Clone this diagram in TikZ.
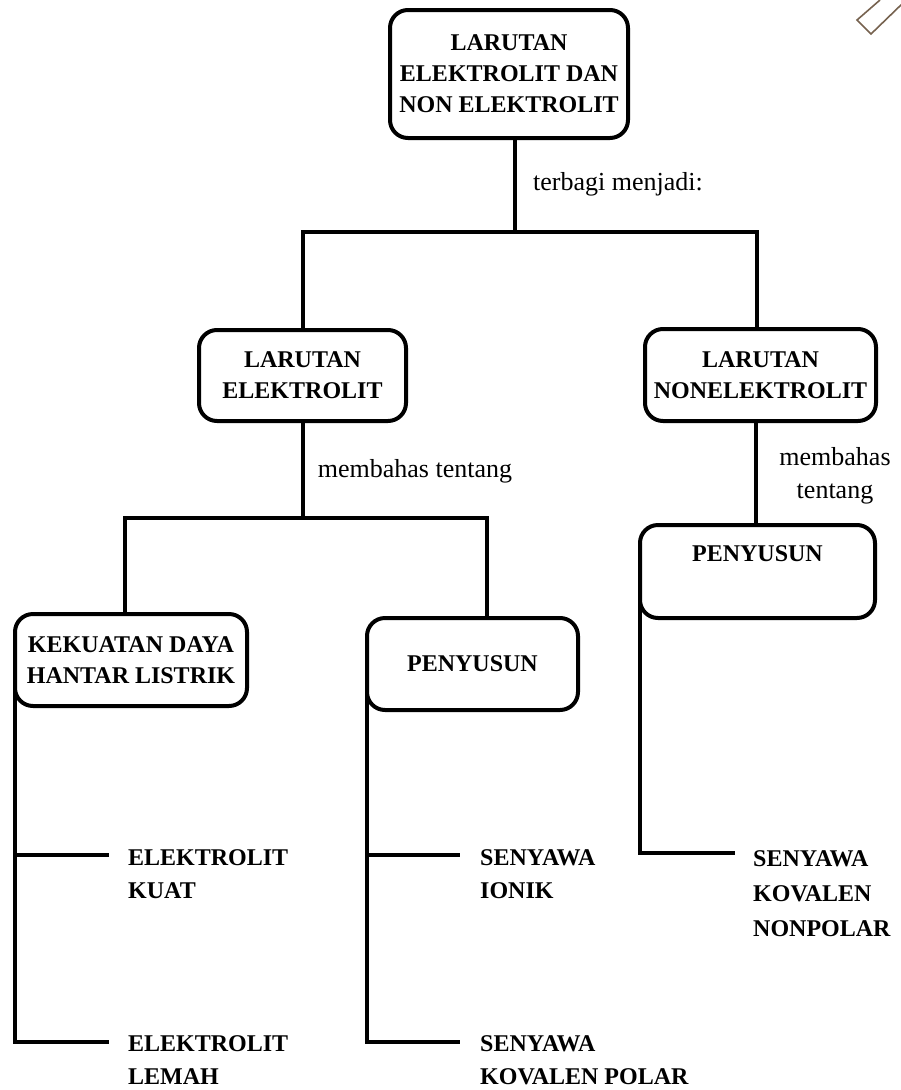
\documentclass[tikz,border=0pt]{standalone}
\usepackage{fontspec}
\setmainfont{Liberation Serif}
\definecolor{deco}{HTML}{76624F}
\tikzset{
  box/.style={draw=black, line width=4pt, rounded corners=18pt, inner sep=0pt,
    align=center, font=\fontsize{24}{31}\selectfont\bfseries},
  leaf/.style={inner sep=0pt, anchor=north west, align=left,
    font=\fontsize{24}{33}\selectfont\bfseries},
  lbl/.style={inner sep=0pt, align=center, font=\fontsize{26}{33}\selectfont},
  conn/.style={line width=4pt, line cap=rect, line join=miter},
}
\begin{document}
\begin{tikzpicture}[x=1pt,y=-1pt]
\useasboundingbox (0,0) rectangle (901,1090);
% decoration top right
\draw[deco, line width=1.6pt] (880,0) -- (857,20) -- (871,34) -- (903,3);

% boxes
\node[box, minimum width=238pt, minimum height=128pt] (top) at (509,74)
  {LARUTAN\\ELEKTROLIT DAN\\NON ELEKTROLIT};
\node[box, minimum width=207pt, minimum height=91pt] (le) at (302.5,375.5)
  {LARUTAN\\ELEKTROLIT};
\node[box, minimum width=231pt, minimum height=92pt] (rn) at (760.5,375)
  {LARUTAN\\NONELEKTROLIT};
\node[box, minimum width=235pt, minimum height=93pt] (pr) at (757.5,571.5)
  {PENYUSUN\\[4pt]};
\node[box, minimum width=232pt, minimum height=92pt] (kek) at (131,660)
  {KEKUATAN DAYA\\HANTAR LISTRIK};
\node[box, minimum width=211pt, minimum height=92pt] (pm) at (472.5,664)
  {PENYUSUN};

% labels
\node[lbl, anchor=base] (t1) at (618,190) {terbagi menjadi:};
\node[lbl, anchor=base] (t2) at (415,477) {membahas tentang};
\node[lbl, anchor=north] (t3) at (835,447) {membahas\\tentang};

% leaves
\node[leaf] (ek) at (128,849) {ELEKTROLIT\\KUAT};
\node[leaf] (el) at (128,1035) {ELEKTROLIT\\LEMAH};
\node[leaf] (si) at (480,849) {SENYAWA\\IONIK};
\node[leaf] (sp) at (480,1035) {SENYAWA\\KOVALEN POLAR};
\node[leaf, font=\fontsize{24}{35}\selectfont\bfseries] (sn) at (753,850) {SENYAWA\\KOVALEN\\NONPOLAR};

% junction coordinates
\coordinate (j1) at (515,232);
\coordinate (jl) at (303,232);
\coordinate (jr) at (757,232);
\coordinate (j2) at (303,518);
\coordinate (j2l) at (125,518);
\coordinate (j2r) at (487,518);
\coordinate (jn) at (756,0);

\coordinate (kx) at (15,688);
\coordinate (kb) at (15,1042);
\coordinate (ek-end) at (107,855);
\coordinate (el-end) at (107,1042);
\coordinate (mx) at (367,692);
\coordinate (mb) at (367,1042);
\coordinate (si-end) at (458,855);
\coordinate (sp-end) at (458,1042);
\coordinate (px) at (640,600);
\coordinate (pb) at (640,853);
\coordinate (sn-end) at (733,853);

% connectors
\draw[conn] (j1 |- top.south) -- (j1);
\draw[conn] (jl) -- (jr);
\draw[conn] (jl) -- (jl |- le.north);
\draw[conn] (jr) -- (jr |- rn.north);
\draw[conn] (j2 |- le.south) -- (j2);
\draw[conn] (j2l) -- (j2r);
\draw[conn] (j2l) -- (j2l |- kek.north);
\draw[conn] (j2r) -- (j2r |- pm.north);
\draw[conn] (jn |- rn.south) -- (jn |- pr.north);

\draw[conn] (kx) -- (kb) -- (el-end);
\draw[conn] (kx |- ek-end) -- (ek-end);
\draw[conn] (mx) -- (mb) -- (sp-end);
\draw[conn] (mx |- si-end) -- (si-end);
\draw[conn] (px) -- (pb) -- (sn-end);
\end{tikzpicture}
\end{document}
